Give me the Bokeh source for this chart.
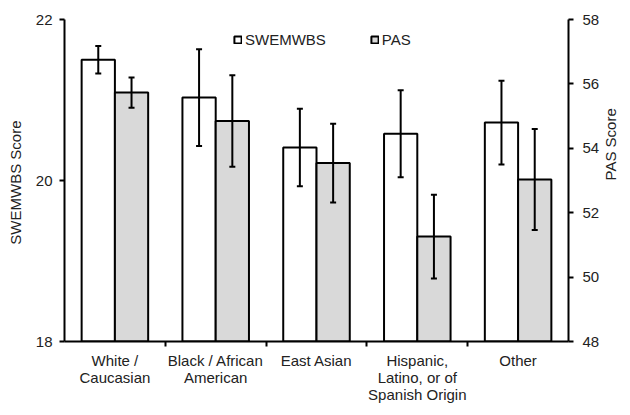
import numpy as np
from bokeh.plotting import figure
from bokeh.models import (Range1d, LinearAxis, FixedTicker, ColumnDataSource, Whisker,
                          TeeHead, Legend, LegendItem)
from bokeh.transform import dodge
from bokeh.embed import file_html
from bokeh.resources import INLINE

categories = ["White /\nCaucasian", "Black / African\nAmerican", "East Asian",
              "Hispanic,\nLatino, or of\nSpanish Origin", "Other"]
swemwbs_mean = [21.50, 21.03, 20.41, 20.58, 20.72]
swemwbs_err = [0.17, 0.60, 0.48, 0.54, 0.52]
pas_mean = [55.73, 54.85, 53.54, 51.26, 53.03]
pas_err = [0.47, 1.42, 1.22, 1.30, 1.57]
left_ticks = [18, 20, 22]
right_ticks = [48, 50, 52, 54, 56, 58]

FONT = "Liberation Sans"
TXT = "#222222"
GRAY = "#d9d9d9"

idx = np.arange(len(categories)) + 0.5
src = ColumnDataSource(dict(
    x=idx,
    sw=swemwbs_mean,
    sw_up=np.array(swemwbs_mean) + np.array(swemwbs_err),
    sw_lo=np.array(swemwbs_mean) - np.array(swemwbs_err),
    pas=pas_mean,
    pas_up=np.array(pas_mean) + np.array(pas_err),
    pas_lo=np.array(pas_mean) - np.array(pas_err),
))

p = figure(width=630, height=415, output_backend="svg", toolbar_location=None,
           x_range=Range1d(0, 5), y_range=Range1d(18, 22),
           min_border_left=64, min_border_right=61, min_border_top=19, min_border_bottom=74)
p.outline_line_color = None
p.grid.visible = False
p.extra_y_ranges = {"pas": Range1d(48, 58)}

off = 0.165
bw = 0.33
r_sw = p.vbar(x=dodge("x", -off), top="sw", bottom=18, width=bw, source=src,
              fill_color="white", line_color="black", line_width=2)
r_pas = p.vbar(x=dodge("x", off), top="pas", bottom=48, width=bw, source=src,
               y_range_name="pas", fill_color=GRAY, line_color="black", line_width=2)

def head():
    return TeeHead(size=6, line_width=2, line_color="black")

w1 = Whisker(base=dodge("x", -off), upper="sw_up", lower="sw_lo", source=src,
             line_color="black", line_width=2, level="overlay",
             upper_head=head(), lower_head=head())
w2 = Whisker(base=dodge("x", off), upper="pas_up", lower="pas_lo", source=src,
             y_range_name="pas", line_color="black", line_width=2, level="overlay",
             upper_head=head(), lower_head=head())
p.add_layout(w1)
p.add_layout(w2)

# x axis
xa = p.xaxis[0]
xa.ticker = FixedTicker(ticks=list(idx), minor_ticks=[1, 2, 3, 4])
xa.major_label_overrides = {float(v): c for v, c in zip(idx, categories)}
xa.major_tick_line_color = None
xa.major_tick_out = 0
xa.major_tick_in = 0
xa.minor_tick_out = 5
xa.minor_tick_in = 0
xa.minor_tick_line_width = 2
xa.minor_tick_line_color = "black"
xa.axis_line_width = 2
xa.axis_line_color = "black"
xa.major_label_standoff = 5
xa.major_label_text_font = FONT
xa.major_label_text_font_size = "15px"
xa.major_label_text_color = TXT
xa.major_label_text_line_height = 1.0

# left axis
ya = p.yaxis[0]
ya.ticker = FixedTicker(ticks=left_ticks)
ya.axis_label = "SWEMWBS  Score"
ya.axis_label_text_font = FONT
ya.axis_label_text_font_size = "15px"
ya.axis_label_text_font_style = "normal"
ya.axis_label_text_color = TXT
ya.axis_label_standoff = 9
ya.major_label_text_font = FONT
ya.major_label_text_font_size = "15px"
ya.major_label_text_color = TXT
ya.major_label_standoff = 7
ya.major_tick_out = 5
ya.major_tick_in = 0
ya.major_tick_line_width = 2
ya.minor_tick_line_color = None
ya.axis_line_width = 2

# right axis
ra = LinearAxis(y_range_name="pas", ticker=FixedTicker(ticks=right_ticks))
ra.axis_label = "PAS Score"
ra.axis_label_text_font = FONT
ra.axis_label_text_font_size = "15px"
ra.axis_label_text_font_style = "normal"
ra.axis_label_text_color = TXT
ra.axis_label_standoff = 8
try:
    ra.axis_label_orientation = np.pi / 2
except Exception:
    pass
ra.major_label_text_font = FONT
ra.major_label_text_font_size = "15px"
ra.major_label_text_color = TXT
ra.major_label_standoff = 9
ra.major_tick_out = 5
ra.major_tick_in = 0
ra.major_tick_line_width = 2
ra.minor_tick_line_color = None
ra.axis_line_width = 2
p.add_layout(ra, "right")

legend = Legend(items=[LegendItem(label="SWEMWBS", renderers=[r_sw]),
                       LegendItem(label="PAS", renderers=[r_pas])],
                orientation="horizontal", location=(169, 293),
                padding=0, margin=0, spacing=44, label_standoff=3,
                glyph_width=9, glyph_height=9, label_height=17,
                border_line_color=None, background_fill_alpha=0,
                label_text_font=FONT, label_text_font_size="15px", label_text_color=TXT)
p.add_layout(legend, "center")

open("out.html", "w").write(file_html(p, INLINE))
